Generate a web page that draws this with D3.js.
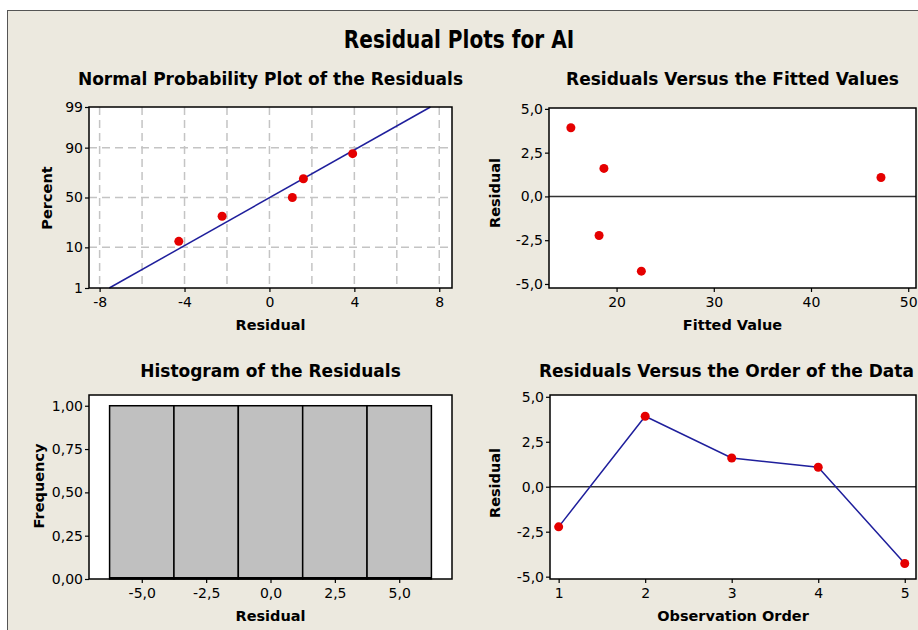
<!DOCTYPE html>
<html><head><meta charset="utf-8">
<script src="https://cdn.jsdelivr.net/npm/d3@7"></script>
<style>
body{margin:0;background:#fff;}
svg text{font-family:"DejaVu Sans",Verdana,sans-serif;fill:#000;}
</style>
</head><body>
<svg id="chart" width="918" height="630"></svg>
<script>
// ---- data ----
const observationOrder = [1, 2, 3, 4, 5];
const residuals = [-2.23, 3.92, 1.6, 1.08, -4.27];
const fittedValues = [18.2, 15.3, 18.7, 47.2, 22.55];

// probability-plot percents of the sorted residuals
const nppPercent = [13, 31.5, 50, 68.5, 87];
const nppPercentTicks = [1, 10, 50, 90, 99];
const nppGridPercents = [10, 50, 90];
const nppResidualTicks = [-8, -4, 0, 4, 8];
const nppResidualGrid = [-8, -6, -4, -2, 0, 2, 4, 6, 8];

// histogram bins
const histBinCenters = [-5, -2.5, 0, 2.5, 5];
const histFrequency = [1, 1, 1, 1, 1];
const histBinWidth = 2.5;
const histFreqTicks = [0, 0.25, 0.5, 0.75, 1];

const residualTicks = [-5, -2.5, 0, 2.5, 5];
const fittedTicks = [20, 30, 40, 50];

// ---- helpers ----
const loc = d3.formatLocale({decimal: ",", thousands: ".", grouping: [3], currency: ["", ""], minus: "-"});
const f1 = loc.format(".1f"), f2 = loc.format(".2f"), f0 = loc.format("d");

// inverse standard normal CDF (Acklam)
function qnorm(p) {
  const a = [-3.969683028665376e+01, 2.209460984245205e+02, -2.759285104469687e+02, 1.383577518672690e+02, -3.066479806614716e+01, 2.506628277459239e+00];
  const b = [-5.447609879822406e+01, 1.615858368580409e+02, -1.556989798598866e+02, 6.680131188771972e+01, -1.328068155288572e+01];
  const c = [-7.784894002430293e-03, -3.223964580411365e-01, -2.400758277161838e+00, -2.549732539343734e+00, 4.374664141464968e+00, 2.938163982698783e+00];
  const d = [7.784695709041462e-03, 3.224671290700398e-01, 2.445134137142996e+00, 3.754408661907416e+00];
  const pl = 0.02425, ph = 1 - pl;
  let q, r;
  if (p < pl) { q = Math.sqrt(-2 * Math.log(p));
    return (((((c[0]*q+c[1])*q+c[2])*q+c[3])*q+c[4])*q+c[5]) / ((((d[0]*q+d[1])*q+d[2])*q+d[3])*q+1); }
  if (p > ph) { q = Math.sqrt(-2 * Math.log(1 - p));
    return -(((((c[0]*q+c[1])*q+c[2])*q+c[3])*q+c[4])*q+c[5]) / ((((d[0]*q+d[1])*q+d[2])*q+d[3])*q+1); }
  q = p - 0.5; r = q * q;
  return (((((a[0]*r+a[1])*r+a[2])*r+a[3])*r+a[4])*r+a[5])*q / (((((b[0]*r+b[1])*r+b[2])*r+b[3])*r+b[4])*r+1);
}

const svg = d3.select("#chart");
const W = 918, H = 630;
const RED = "#e50000", BLUE = "#1f1f9c";
const TICK_FONT = "14px", LABEL_FONT = "14.5px", PANEL_FONT = "17px";

// page background and frame
svg.append("rect").attr("width", W).attr("height", H).attr("fill", "#fff");
svg.append("rect").attr("x", 7.5).attr("y", 10.5).attr("width", W + 10).attr("height", H + 10)
  .attr("fill", "#ece9df").attr("stroke", "#555").attr("stroke-width", 1);

svg.append("text").attr("transform", "translate(459,48) scale(0.82,1)").attr("text-anchor", "middle")
  .style("font-size", "24.5px").style("font-weight", "bold").text("Residual Plots for AI");

function styleAxis(g) {
  g.select(".domain").remove();
  g.selectAll(".tick line").attr("stroke", "#000").attr("stroke-width", 1.2);
  g.selectAll("text").style("font-size", TICK_FONT).style("font-family", "\"DejaVu Sans\",sans-serif").attr("fill", "#000");
}

// titleX: null centres the title over the plot, a number left-aligns it there
function panel(box, title, titleY, xLabel, yLabel, yLabelX, yLabelY, titleX = null) {
  const g = svg.append("g");
  g.append("rect").attr("x", box.x0).attr("y", box.y0).attr("width", box.x1 - box.x0).attr("height", box.y1 - box.y0).attr("fill", "#fff");
  svg.append("text").attr("x", titleX === null ? (box.x0 + box.x1) / 2 : titleX).attr("y", titleY)
    .attr("text-anchor", titleX === null ? "middle" : "start")
    .style("font-size", PANEL_FONT).style("font-weight", "bold").text(title);
  svg.append("text").attr("x", (box.x0 + box.x1) / 2).attr("y", box.y1 + 42).attr("text-anchor", "middle")
    .style("font-size", LABEL_FONT).style("font-weight", "bold").text(xLabel);
  svg.append("text").attr("transform", `translate(${yLabelX},${yLabelY}) rotate(-90)`).attr("text-anchor", "middle")
    .style("font-size", LABEL_FONT).style("font-weight", "bold").text(yLabel);
  return g;
}
function frame(box) {
  svg.append("rect").attr("x", box.x0).attr("y", box.y0).attr("width", box.x1 - box.x0).attr("height", box.y1 - box.y0)
    .attr("fill", "none").attr("stroke", "#000").attr("stroke-width", 1.5);
}

// ---- Normal probability plot ----
{
  const box = {x0: 89, x1: 452, y0: 107, y1: 288};
  const g = panel(box, "Normal Probability Plot of the Residuals", 85, "Residual", "Percent", 52, 198);
  const x = d3.scaleLinear().domain([-8.5, 8.6]).range([box.x0, box.x1]);
  const y = d3.scaleLinear().domain([qnorm(0.01), qnorm(0.99)]).range([box.y1, box.y0]);
  const dash = "8,5";
  g.selectAll(".gx").data(nppResidualGrid).join("line")
    .attr("x1", d => x(d)).attr("x2", d => x(d)).attr("y1", box.y0).attr("y2", box.y1)
    .attr("stroke", "#c4c4c4").attr("stroke-width", 1.5).attr("stroke-dasharray", dash);
  g.selectAll(".gy").data(nppGridPercents).join("line")
    .attr("x1", box.x0).attr("x2", box.x1).attr("y1", d => y(qnorm(d / 100))).attr("y2", d => y(qnorm(d / 100)))
    .attr("stroke", "#c4c4c4").attr("stroke-width", 1.5).attr("stroke-dasharray", dash);
  const mu = d3.mean(residuals), sd = d3.deviation(residuals);
  const zs = [qnorm(0.01), qnorm(0.99)];
  g.append("line").attr("x1", x(mu + sd * zs[0])).attr("y1", y(zs[0])).attr("x2", x(mu + sd * zs[1])).attr("y2", y(zs[1]))
    .attr("stroke", BLUE).attr("stroke-width", 1.5);
  const sorted = residuals.slice().sort(d3.ascending);
  g.selectAll("circle").data(sorted).join("circle")
    .attr("cx", d => x(d)).attr("cy", (d, i) => y(qnorm(nppPercent[i] / 100))).attr("r", 4.5).attr("fill", RED);
  frame(box);
  svg.append("g").attr("transform", `translate(0,${box.y1})`)
    .call(d3.axisBottom(x).tickValues(nppResidualTicks).tickFormat(f0).tickSize(4).tickPadding(5).tickSizeOuter(0)).call(styleAxis);
  svg.append("g").attr("transform", `translate(${box.x0},0)`)
    .call(d3.axisLeft(y).tickValues(nppPercentTicks.map(p => qnorm(p / 100))).tickFormat((d, i) => nppPercentTicks[i]).tickSize(4).tickPadding(2).tickSizeOuter(0)).call(styleAxis);
}

// ---- Residuals versus fitted values ----
{
  const box = {x0: 549, x1: 916, y0: 108, y1: 288};
  const g = panel(box, "Residuals Versus the Fitted Values", 85, "Fitted Value", "Residual", 500, 193);
  const x = d3.scaleLinear().domain([13.05, 50.8]).range([box.x0, box.x1]);
  const y = d3.scaleLinear().domain([-5.23, 5.05]).range([box.y1, box.y0]);
  g.append("line").attr("x1", box.x0).attr("x2", box.x1).attr("y1", y(0)).attr("y2", y(0)).attr("stroke", "#333").attr("stroke-width", 1.5);
  g.selectAll("circle").data(residuals).join("circle")
    .attr("cx", (d, i) => x(fittedValues[i])).attr("cy", d => y(d)).attr("r", 4.5).attr("fill", RED);
  frame(box);
  svg.append("g").attr("transform", `translate(0,${box.y1})`)
    .call(d3.axisBottom(x).tickValues(fittedTicks).tickFormat(f0).tickSize(4).tickPadding(5).tickSizeOuter(0)).call(styleAxis);
  svg.append("g").attr("transform", `translate(${box.x0},0)`)
    .call(d3.axisLeft(y).tickValues(residualTicks).tickFormat(f1).tickSize(4).tickPadding(2).tickSizeOuter(0)).call(styleAxis);
}

// ---- Histogram ----
{
  const box = {x0: 89, x1: 452, y0: 395, y1: 579};
  const g = panel(box, "Histogram of the Residuals", 377, "Residual", "Frequency", 44, 486);
  const x = d3.scaleLinear().domain([-7.05, 7.05]).range([box.x0, box.x1]);
  const y = d3.scaleLinear().domain([0, 1.062]).range([box.y1, box.y0]);
  g.selectAll("rect.bar").data(histBinCenters).join("rect").attr("class", "bar")
    .attr("x", d => x(d - histBinWidth / 2)).attr("width", d => x(d + histBinWidth / 2) - x(d - histBinWidth / 2))
    .attr("y", (d, i) => y(histFrequency[i])).attr("height", (d, i) => y(0) - y(histFrequency[i]))
    .attr("fill", "#c0c0c0").attr("stroke", "#000").attr("stroke-width", 1.5);
  g.append("line").attr("x1", x(histBinCenters[0] - histBinWidth / 2)).attr("x2", x(histBinCenters[4] + histBinWidth / 2))
    .attr("y1", y(0) - 1).attr("y2", y(0) - 1).attr("stroke", "#000").attr("stroke-width", 2);
  frame(box);
  svg.append("g").attr("transform", `translate(0,${box.y1})`)
    .call(d3.axisBottom(x).tickValues(residualTicks).tickFormat(f1).tickSize(4).tickPadding(5).tickSizeOuter(0)).call(styleAxis);
  svg.append("g").attr("transform", `translate(${box.x0},0)`)
    .call(d3.axisLeft(y).tickValues(histFreqTicks).tickFormat(f2).tickSize(4).tickPadding(2).tickSizeOuter(0)).call(styleAxis);
}

// ---- Residuals versus observation order ----
{
  const box = {x0: 550, x1: 916, y0: 395, y1: 579};
  const g = panel(box, "Residuals Versus the Order of the Data", 377, "Observation Order", "Residual", 500, 483, 539);
  const x = d3.scaleLinear().domain([0.9, 5.13]).range([box.x0, box.x1]);
  const y = d3.scaleLinear().domain([-5.13, 5.1]).range([box.y1, box.y0]);
  g.append("line").attr("x1", box.x0).attr("x2", box.x1).attr("y1", y(0)).attr("y2", y(0)).attr("stroke", "#333").attr("stroke-width", 1.5);
  g.append("path").datum(residuals)
    .attr("d", d3.line().x((d, i) => x(observationOrder[i])).y(d => y(d)))
    .attr("fill", "none").attr("stroke", BLUE).attr("stroke-width", 1.5);
  g.selectAll("circle").data(residuals).join("circle")
    .attr("cx", (d, i) => x(observationOrder[i])).attr("cy", d => y(d)).attr("r", 4.5).attr("fill", RED);
  frame(box);
  svg.append("g").attr("transform", `translate(0,${box.y1})`)
    .call(d3.axisBottom(x).tickValues(observationOrder).tickFormat(f0).tickSize(4).tickPadding(5).tickSizeOuter(0)).call(styleAxis);
  svg.append("g").attr("transform", `translate(${box.x0},0)`)
    .call(d3.axisLeft(y).tickValues(residualTicks).tickFormat(f1).tickSize(4).tickPadding(2).tickSizeOuter(0)).call(styleAxis);
}
</script>
</body></html>
